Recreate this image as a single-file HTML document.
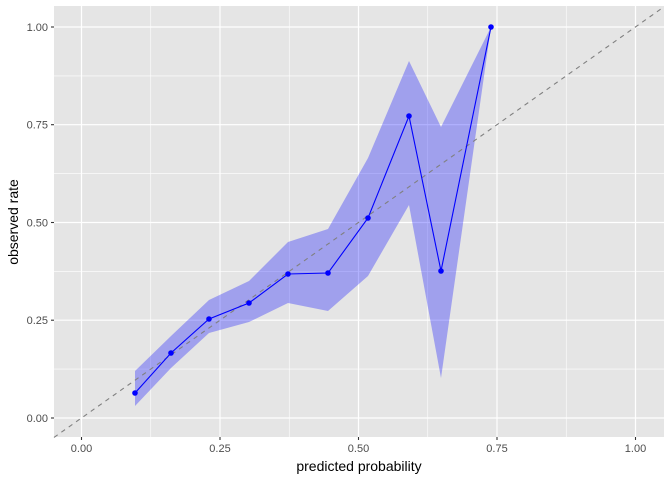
<!DOCTYPE html>
<html><head><style>body{margin:0;background:#fff}svg{display:block}</style></head><body>
<svg width="672" height="480" xmlns="http://www.w3.org/2000/svg" font-family="Liberation Sans, sans-serif">
<rect x="54" y="6" width="610" height="431" fill="#e5e5e5"/>
<g stroke="#fff" stroke-width="0.6">
<line x1="150.75" y1="6" x2="150.75" y2="437"/><line x1="289.25" y1="6" x2="289.25" y2="437"/><line x1="427.75" y1="6" x2="427.75" y2="437"/><line x1="566.25" y1="6" x2="566.25" y2="437"/>
<line x1="54" y1="369.1" x2="664" y2="369.1"/><line x1="54" y1="271.4" x2="664" y2="271.4"/><line x1="54" y1="173.6" x2="664" y2="173.6"/><line x1="54" y1="75.9" x2="664" y2="75.9"/>
</g>
<g stroke="#fff" stroke-width="1.2">
<line x1="81.5" y1="6" x2="81.5" y2="437"/><line x1="220" y1="6" x2="220" y2="437"/><line x1="358.5" y1="6" x2="358.5" y2="437"/><line x1="497" y1="6" x2="497" y2="437"/><line x1="635.5" y1="6" x2="635.5" y2="437"/>
<line x1="54" y1="418" x2="664" y2="418"/><line x1="54" y1="320.2" x2="664" y2="320.2"/><line x1="54" y1="222.5" x2="664" y2="222.5"/><line x1="54" y1="124.7" x2="664" y2="124.7"/><line x1="54" y1="27" x2="664" y2="27"/>
</g>
<polygon fill="#0000ff" fill-opacity="0.3" points="135,371 171,336 209,300 249,281 288,242 328,229 368,158 409,61 441,127 491,27 441,378 409,205 368,276 328,311 288,303 249,322 209,333 171,368 135,406"/>
<line x1="54" y1="437.4" x2="664" y2="6.8" stroke="#808080" stroke-width="1.1" stroke-dasharray="4.5,4.5"/>
<polyline fill="none" stroke="#0000ff" stroke-width="1.1" points="135,393 171,353 209,319 249,303 288,274 328,273 368,218 409,116 441,271 491,27"/>
<g fill="#0000ff">
<circle cx="135" cy="393" r="2.8"/><circle cx="171" cy="353" r="2.8"/><circle cx="209" cy="319" r="2.8"/><circle cx="249" cy="303" r="2.8"/><circle cx="288" cy="274" r="2.8"/><circle cx="328" cy="273" r="2.8"/><circle cx="368" cy="218" r="2.8"/><circle cx="409" cy="116" r="2.8"/><circle cx="441" cy="271" r="2.8"/><circle cx="491" cy="27" r="2.8"/>
</g>
<g stroke="#333" stroke-width="1.1">
<line x1="81.5" y1="437" x2="81.5" y2="440"/><line x1="220" y1="437" x2="220" y2="440"/><line x1="358.5" y1="437" x2="358.5" y2="440"/><line x1="497" y1="437" x2="497" y2="440"/><line x1="635.5" y1="437" x2="635.5" y2="440"/>
<line x1="51" y1="418" x2="54" y2="418"/><line x1="51" y1="320.2" x2="54" y2="320.2"/><line x1="51" y1="222.5" x2="54" y2="222.5"/><line x1="51" y1="124.7" x2="54" y2="124.7"/><line x1="51" y1="27" x2="54" y2="27"/>
</g>
<g fill="#4d4d4d" font-size="11" text-anchor="middle">
<text x="81.5" y="452">0.00</text><text x="220" y="452">0.25</text><text x="358.5" y="452">0.50</text><text x="497" y="452">0.75</text><text x="635.5" y="452">1.00</text>
</g>
<g fill="#4d4d4d" font-size="11" text-anchor="end">
<text x="48" y="422">0.00</text><text x="48" y="324.2">0.25</text><text x="48" y="226.5">0.50</text><text x="48" y="128.7">0.75</text><text x="48" y="31">1.00</text>
</g>
<text x="359" y="471" font-size="14" text-anchor="middle" fill="#000">predicted probability</text>
<text transform="translate(18,222) rotate(-90)" font-size="14" text-anchor="middle" fill="#000">observed rate</text>
</svg>
</body></html>
